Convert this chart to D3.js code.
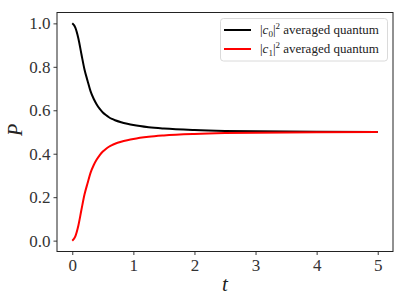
<!DOCTYPE html>
<html>
<head>
<meta charset="utf-8">
<script src="https://cdn.jsdelivr.net/npm/d3@7"></script>
<style>
  body { margin: 0; background: #fff; }
  svg { display: block; }
</style>
</head>
<body>
<script>
// values
const times = [0, 0.05, 0.1, 0.15, 0.2, 0.25, 0.3, 0.35, 0.4, 0.45, 0.5, 0.55, 0.6, 0.65, 0.7, 0.8, 0.9, 1.0, 1.25, 1.5, 2.0, 2.5, 3.0, 4.0, 5.0];
const c0avg = [1.0, 0.98, 0.93, 0.858, 0.788, 0.736, 0.687, 0.653, 0.627, 0.606, 0.59, 0.578, 0.568, 0.56, 0.554, 0.545, 0.538, 0.532, 0.522, 0.516, 0.509, 0.505, 0.503, 0.501, 0.5];
const c1avg = [0.0, 0.02, 0.07, 0.142, 0.212, 0.264, 0.313, 0.347, 0.373, 0.394, 0.41, 0.422, 0.432, 0.44, 0.446, 0.455, 0.462, 0.468, 0.478, 0.484, 0.491, 0.495, 0.497, 0.499, 0.5];
const xTicks = [0, 1, 2, 3, 4, 5];
const yTicks = [0.0, 0.2, 0.4, 0.6, 0.8, 1.0];
const seriesNames = ["c0", "c1"];

const serif = "'Liberation Serif'";
const w = 406, h = 304;
const padLeft = 57, padRight = 393, padTop = 12.5, padBottom = 251.5;

const svg = d3.select("body").append("svg")
  .attr("width", w)
  .attr("height", h);

const xScale = d3.scaleLinear().domain([-0.25, 5.25]).range([padLeft, padRight]);
const yScale = d3.scaleLinear().domain([-0.05, 1.05]).range([padBottom, padTop]);

const xAxis = d3.axisBottom(xScale).tickValues(xTicks).tickFormat(d3.format("d"))
  .tickSizeInner(3.5).tickSizeOuter(0).tickPadding(4);
const yAxis = d3.axisLeft(yScale).tickValues(yTicks).tickFormat(d3.format(".1f"))
  .tickSizeInner(3.5).tickSizeOuter(0).tickPadding(3);

const gx = svg.append("g").attr("transform", "translate(0," + padBottom + ")").call(xAxis);
const gy = svg.append("g").attr("transform", "translate(" + padLeft + ",0)").call(yAxis);
[gx, gy].forEach(g => {
  g.attr("font-family", null).attr("font-size", null);
  g.select(".domain").remove();
  g.selectAll(".tick line").attr("stroke", "#222").attr("stroke-width", 0.9);
  g.selectAll(".tick text")
    .style("font-family", serif)
    .style("font-size", "17px").attr("fill", "#333");
});

const line = d3.line()
  .x((d, i) => xScale(times[i]))
  .y(d => yScale(d))
  .curve(d3.curveMonotoneX);

svg.append("path").datum(c0avg)
  .attr("d", line).attr("fill", "none")
  .attr("stroke", "#000").attr("stroke-width", 2);
svg.append("path").datum(c1avg)
  .attr("d", line).attr("fill", "none")
  .attr("stroke", "#ff0000").attr("stroke-width", 2);

// frame
svg.append("rect")
  .attr("x", padLeft).attr("y", padTop)
  .attr("width", padRight - padLeft).attr("height", padBottom - padTop)
  .attr("fill", "none").attr("stroke", "#222").attr("stroke-width", 1);

// axis labels
svg.append("text")
  .attr("x", (padLeft + padRight) / 2).attr("y", 291)
  .attr("text-anchor", "middle").attr("fill", "#222")
  .style("font-family", serif)
  .style("font-size", "21px").style("font-style", "italic")
  .text("t");
svg.append("text")
  .attr("transform", "translate(22,130) rotate(-90)")
  .attr("text-anchor", "middle").attr("fill", "#222")
  .style("font-family", serif)
  .style("font-size", "20px").style("font-style", "italic")
  .text("P");

// legend
const legend = svg.append("g");
legend.append("rect")
  .attr("x", 220.5).attr("y", 18.5)
  .attr("width", 167).attr("height", 42.5)
  .attr("rx", 3)
  .attr("fill", "#fff").attr("fill-opacity", 0.8)
  .attr("stroke", "#d0d0d0").attr("stroke-width", 0.8);

const colors = ["#000", "#ff0000"];
seriesNames.forEach((name, i) => {
  const y = 30 + i * 19;
  legend.append("line")
    .attr("x1", 224).attr("x2", 251)
    .attr("y1", y).attr("y2", y)
    .attr("stroke", colors[i]).attr("stroke-width", 2);
  const t = legend.append("text")
    .attr("x", 260).attr("y", y + 4).attr("fill", "#222")
    .style("font-family", serif)
    .style("font-size", "13px");
  t.append("tspan").text("|");
  t.append("tspan").style("font-style", "italic").text("c");
  t.append("tspan").attr("dy", 2.5).style("font-size", "9px").text(name.slice(1));
  t.append("tspan").attr("dy", -2.5).text("|");
  t.append("tspan").attr("dy", -5).style("font-size", "9px").text("2");
  t.append("tspan").attr("dy", 5).text(" averaged quantum");
});
</script>
</body>
</html>
